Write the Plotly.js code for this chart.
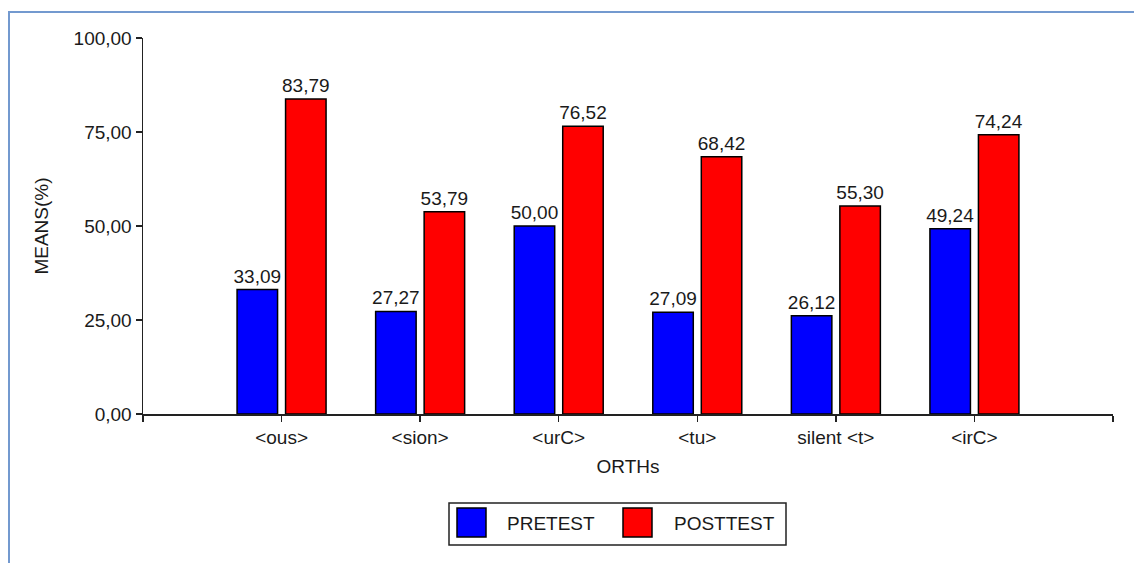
<!DOCTYPE html>
<html>
<head>
<meta charset="utf-8">
<script src="https://cdn.plot.ly/plotly-3.0.1.min.js"></script>
<style>
  html, body { margin: 0; padding: 0; background: #fff; }
  #wrap { position: relative; width: 1134px; height: 563px; overflow: hidden; }
  #chart { position: absolute; left: 0; top: 0; width: 1134px; height: 563px; }
  #frame { position: absolute; left: 8px; top: 11px; width: 1200px; height: 700px;
           border-left: 2px solid #7399cf; border-top: 2px solid #7399cf; pointer-events: none; }
</style>
</head>
<body>
<div id="wrap">
  <div id="chart"></div>
  <div id="frame"></div>
</div>
<script>
const categories = ['<ous>', '<sion>', '<urC>', '<tu>', 'silent <t>', '<irC>'];
const pretest  = [33.09, 27.27, 50.00, 27.09, 26.12, 49.24];
const posttest = [83.79, 53.79, 76.52, 68.42, 55.30, 74.24];
const seriesNames = ['PRETEST', 'POSTTEST'];
const seriesColors = ['#0000ff', '#ff0000'];
const yTicks = [0, 25, 50, 75, 100];

const xIdx = categories.map((c, i) => i);
const FONT = 'Liberation Sans, Arial, sans-serif';
const TXT = '#1a1a1a';

function barTrace(vals, k) {
  return {
    type: 'bar', x: xIdx, y: vals, name: seriesNames[k],
    marker: { color: seriesColors[k], line: { color: '#000', width: 1.5 } },
    texttemplate: '%{y:.2f}', textposition: 'outside', constraintext: 'none',
    cliponaxis: false, textfont: { family: FONT, size: 19, color: TXT },
    showlegend: false, hoverinfo: 'x+y'
  };
}

// plot area in pixels: l=143, r=1113, t=38, b=414
const L = 143, R = 1113, T = 38, B = 414;
const px = x => (x - L) / (R - L);
const py = y => (B - y) / (B - T);

const shapes = [
  { type: 'rect', xref: 'paper', yref: 'paper', x0: px(449), x1: px(786), y0: py(503), y1: py(545),
    line: { color: '#222', width: 1.5 }, fillcolor: 'rgba(0,0,0,0)' },
  { type: 'rect', xref: 'paper', yref: 'paper', x0: px(457), x1: px(486), y0: py(508), y1: py(537),
    line: { color: '#000', width: 1.5 }, fillcolor: seriesColors[0] },
  { type: 'rect', xref: 'paper', yref: 'paper', x0: px(623), x1: px(652), y0: py(508), y1: py(537),
    line: { color: '#000', width: 1.5 }, fillcolor: seriesColors[1] }
];
const annotations = [
  { xref: 'paper', yref: 'paper', x: px(505), y: py(523), xanchor: 'left', yanchor: 'middle',
    text: seriesNames[0], showarrow: false, font: { family: FONT, size: 19, color: TXT } },
  { xref: 'paper', yref: 'paper', x: px(672), y: py(523), xanchor: 'left', yanchor: 'middle',
    text: seriesNames[1], showarrow: false, font: { family: FONT, size: 19, color: TXT } }
];

const layout = {
  width: 1134, height: 563,
  margin: { l: L, r: 1134 - R, t: T, b: 563 - B, pad: 0 },
  paper_bgcolor: '#fff', plot_bgcolor: '#fff',
  separators: ', ',
  barmode: 'group', bargap: 0.30, bargroupgap: 0.165,
  font: { family: FONT, size: 19, color: TXT },
  showlegend: false,
  xaxis: {
    type: 'linear', range: [-1, categories.length],
    tickmode: 'array', tickvals: [-1, ...xIdx, categories.length],
    ticktext: ['', ...categories, ''],
    ticks: 'outside', ticklen: 6, tickwidth: 1.5, tickcolor: '#222',
    showline: true, linecolor: '#222', linewidth: 1.5,
    showgrid: false, zeroline: false,
    tickfont: { family: FONT, size: 19, color: TXT },
    title: { text: 'ORTHs', font: { family: FONT, size: 19, color: TXT }, standoff: 12 }
  },
  yaxis: {
    range: [0, 100], tickmode: 'array', tickvals: yTicks, tickformat: '.2f',
    ticks: 'outside', ticklen: 6, tickwidth: 1.5, tickcolor: '#222',
    showline: true, linecolor: '#222', linewidth: 1.5,
    showgrid: false, zeroline: false,
    tickfont: { family: FONT, size: 19, color: TXT },
    title: { text: 'MEANS(%)', font: { family: FONT, size: 19, color: TXT }, standoff: 20 }
  },
  shapes: shapes,
  annotations: annotations
};

Plotly.newPlot('chart', [barTrace(pretest, 0), barTrace(posttest, 1)], layout,
  { displayModeBar: false, staticPlot: true });
</script>
</body>
</html>
